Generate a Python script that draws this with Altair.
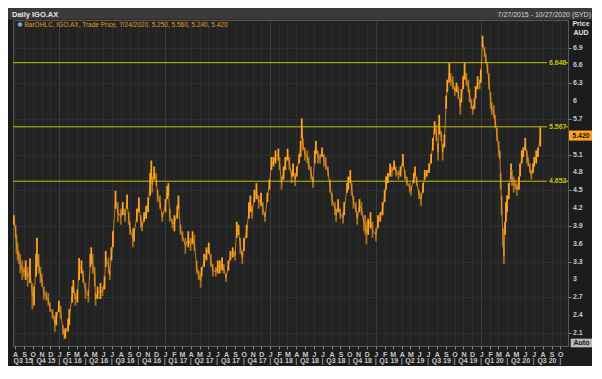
import altair as alt
import pandas as pd
import numpy as np

# ---------------- data ----------------
dates = [
    "2015-07-28", "2015-08-03", "2015-08-06", "2015-08-10", "2015-08-14", "2015-08-19", "2015-08-26",
    "2015-09-01", "2015-09-07", "2015-09-14", "2015-09-22", "2015-09-30", "2015-10-06", "2015-10-13",
    "2015-10-16", "2015-10-22", "2015-10-28", "2015-11-02", "2015-11-09", "2015-11-17", "2015-11-24",
    "2015-11-30", "2015-12-09", "2015-12-17", "2015-12-22", "2015-12-31", "2016-01-06", "2016-01-14",
    "2016-01-19", "2016-01-22", "2016-02-01", "2016-02-05", "2016-02-15", "2016-02-19", "2016-02-26",
    "2016-03-04", "2016-03-10", "2016-03-18", "2016-03-24", "2016-04-01", "2016-04-11", "2016-04-18",
    "2016-04-21", "2016-04-26", "2016-05-03", "2016-05-06", "2016-05-13", "2016-05-23", "2016-05-30",
    "2016-06-06", "2016-06-10", "2016-06-20", "2016-06-24", "2016-06-30", "2016-07-05", "2016-07-14",
    "2016-07-22", "2016-08-01", "2016-08-08", "2016-08-16", "2016-08-23", "2016-08-29", "2016-09-02",
    "2016-09-12", "2016-09-16", "2016-09-26", "2016-10-03", "2016-10-10", "2016-10-14", "2016-10-21",
    "2016-10-28", "2016-11-04", "2016-11-11", "2016-11-15", "2016-11-18", "2016-11-25", "2016-12-02",
    "2016-12-07", "2016-12-15", "2016-12-23", "2017-01-03", "2017-01-09", "2017-01-13", "2017-01-18",
    "2017-01-27", "2017-02-03", "2017-02-13", "2017-02-17", "2017-02-24", "2017-03-03", "2017-03-13",
    "2017-03-23", "2017-03-31", "2017-04-07", "2017-04-13", "2017-04-21", "2017-04-28", "2017-05-05",
    "2017-05-08", "2017-05-17", "2017-05-25", "2017-06-02", "2017-06-09", "2017-06-16", "2017-06-26",
    "2017-07-03", "2017-07-10", "2017-07-18", "2017-07-24", "2017-08-01", "2017-08-09", "2017-08-16",
    "2017-08-24", "2017-09-01", "2017-09-07", "2017-09-13", "2017-09-19", "2017-09-26", "2017-10-02",
    "2017-10-11", "2017-10-19", "2017-10-24", "2017-10-30", "2017-11-07", "2017-11-14", "2017-11-22",
    "2017-11-30", "2017-12-06", "2017-12-14", "2017-12-22", "2017-12-29", "2018-01-05", "2018-01-12",
    "2018-01-19", "2018-01-29", "2018-02-02", "2018-02-09", "2018-02-16", "2018-02-22", "2018-03-02",
    "2018-03-08", "2018-03-16", "2018-03-21", "2018-03-28", "2018-04-03", "2018-04-11", "2018-04-16",
    "2018-04-20", "2018-04-24", "2018-05-01", "2018-05-09", "2018-05-14", "2018-05-22", "2018-05-29",
    "2018-06-04", "2018-06-08", "2018-06-15", "2018-06-22", "2018-06-29", "2018-07-06", "2018-07-12",
    "2018-07-20", "2018-07-27", "2018-08-03", "2018-08-13", "2018-08-17", "2018-08-24", "2018-08-31",
    "2018-09-10", "2018-09-14", "2018-09-24", "2018-09-28", "2018-10-05", "2018-10-10", "2018-10-16",
    "2018-10-24", "2018-10-29", "2018-11-06", "2018-11-13", "2018-11-21", "2018-11-26", "2018-11-30",
    "2018-12-06", "2018-12-14", "2018-12-21", "2019-01-02", "2019-01-09", "2019-01-17", "2019-01-25",
    "2019-02-01", "2019-02-06", "2019-02-12", "2019-02-20", "2019-02-26", "2019-03-06", "2019-03-12",
    "2019-03-21", "2019-03-28", "2019-04-05", "2019-04-12", "2019-04-19", "2019-04-29", "2019-05-03",
    "2019-05-13", "2019-05-17", "2019-05-23", "2019-05-31", "2019-06-07", "2019-06-14", "2019-06-20",
    "2019-06-27", "2019-07-05", "2019-07-12", "2019-07-18", "2019-07-24", "2019-07-30", "2019-08-05",
    "2019-08-09", "2019-08-16", "2019-08-21", "2019-08-27", "2019-09-02", "2019-09-06", "2019-09-13",
    "2019-09-18", "2019-09-25", "2019-10-02", "2019-10-08", "2019-10-14", "2019-10-21", "2019-10-25",
    "2019-10-31", "2019-11-05", "2019-11-11", "2019-11-18", "2019-11-22", "2019-11-28", "2019-12-03",
    "2019-12-09", "2019-12-13", "2019-12-20", "2019-12-27", "2019-12-31", "2020-01-06", "2020-01-13",
    "2020-01-17", "2020-01-23", "2020-01-28", "2020-02-03", "2020-02-07", "2020-02-14", "2020-02-19",
    "2020-02-25", "2020-03-02", "2020-03-06", "2020-03-09", "2020-03-12", "2020-03-17", "2020-03-20",
    "2020-03-24", "2020-03-27", "2020-03-31", "2020-04-06", "2020-04-14", "2020-04-17", "2020-04-23",
    "2020-04-28", "2020-05-04", "2020-05-11", "2020-05-15", "2020-05-21", "2020-05-26", "2020-06-02",
    "2020-06-08", "2020-06-12", "2020-06-18", "2020-06-23", "2020-06-29", "2020-07-03", "2020-07-10",
    "2020-07-16", "2020-07-24",
]
highs = [
    4.08, 3.92, 3.75, 3.62, 3.48, 3.43, 3.32, 3.21, 3.32, 3.21, 3.35, 2.94, 2.88, 3.43,
    3.70, 3.43, 3.21, 3.10, 2.88, 2.80, 2.77, 2.61, 2.50, 2.39, 2.45, 2.64, 2.56, 2.23,
    2.15, 2.18, 2.34, 2.50, 2.88, 2.99, 2.77, 2.83, 3.36, 3.32, 3.15, 2.94, 2.83, 3.43,
    3.54, 3.43, 3.21, 2.77, 2.88, 2.94, 2.88, 3.05, 3.48, 3.37, 3.15, 3.54, 3.81, 4.49,
    4.30, 4.19, 4.30, 4.19, 4.43, 4.13, 3.97, 3.86, 3.86, 4.19, 4.38, 4.08, 3.97, 4.13,
    4.24, 4.38, 4.79, 5.00, 4.73, 4.90, 4.79, 4.51, 4.41, 4.13, 4.35, 4.57, 4.62, 4.19,
    4.02, 4.08, 4.24, 4.41, 3.92, 3.81, 3.70, 3.81, 3.70, 3.81, 3.75, 3.32, 3.15, 3.10,
    3.21, 3.43, 3.54, 3.62, 3.43, 3.26, 3.21, 3.32, 3.32, 3.37, 3.26, 3.10, 3.32, 3.48,
    3.54, 3.48, 3.97, 3.92, 3.70, 3.48, 3.70, 3.92, 4.30, 4.41, 4.24, 4.51, 4.62, 4.41,
    4.46, 4.30, 4.13, 4.46, 4.68, 5.06, 5.06, 5.17, 5.20, 5.06, 4.73, 4.90, 5.06, 5.20,
    5.06, 4.84, 4.95, 4.79, 4.90, 5.11, 5.33, 5.71, 5.38, 5.22, 5.17, 5.06, 4.90, 4.73,
    5.17, 5.33, 5.17, 5.11, 5.22, 5.11, 5.06, 4.90, 4.68, 4.46, 4.30, 4.19, 4.35, 4.19,
    4.13, 4.30, 4.62, 4.73, 4.84, 4.62, 4.41, 4.30, 4.13, 4.35, 4.30, 4.08, 4.08, 3.97,
    4.02, 4.13, 3.97, 3.86, 4.08, 4.13, 4.30, 4.51, 4.73, 4.79, 4.95, 4.90, 5.00, 4.90,
    4.84, 4.90, 5.11, 4.84, 4.73, 4.62, 4.57, 4.79, 4.90, 4.73, 4.51, 4.46, 4.62, 4.84,
    4.84, 4.95, 5.11, 5.38, 5.66, 5.60, 5.28, 5.77, 5.49, 5.28, 5.44, 6.09, 6.36, 6.64,
    6.47, 6.42, 6.25, 6.31, 6.25, 6.04, 6.20, 6.42, 6.64, 6.47, 6.36, 6.20, 6.04, 5.93,
    6.04, 6.25, 6.42, 6.36, 6.53, 7.10, 6.91, 6.80, 6.64, 6.47, 6.15, 5.98, 5.93, 5.77,
    5.55, 5.33, 5.17, 4.79, 4.41, 3.86, 3.54, 3.97, 4.30, 4.41, 4.62, 4.95, 4.84, 4.73,
    4.68, 4.62, 4.73, 4.95, 5.17, 5.22, 5.38, 5.17, 5.06, 4.95, 4.84, 4.95, 5.06, 5.17,
    5.22, 5.56,
]
lows = [
    3.92, 3.70, 3.43, 3.32, 3.26, 3.10, 2.99, 3.05, 2.99, 2.88, 2.94, 2.50, 2.56, 3.05,
    3.21, 3.10, 2.94, 2.88, 2.66, 2.64, 2.56, 2.45, 2.34, 2.12, 2.23, 2.45, 2.34, 2.07,
    1.99, 2.01, 2.12, 2.23, 2.61, 2.77, 2.56, 2.61, 2.99, 3.10, 2.94, 2.67, 2.61, 3.21,
    3.26, 3.10, 2.88, 2.56, 2.67, 2.67, 2.72, 2.83, 3.21, 3.10, 2.99, 3.32, 3.54, 4.19,
    3.97, 3.92, 4.08, 3.97, 4.19, 3.92, 3.75, 3.54, 3.64, 3.97, 4.13, 3.86, 3.81, 3.97,
    4.02, 4.13, 4.41, 4.68, 4.46, 4.68, 4.57, 4.30, 4.19, 3.97, 4.13, 4.35, 4.41, 3.97,
    3.86, 3.81, 4.02, 4.19, 3.75, 3.64, 3.43, 3.54, 3.48, 3.59, 3.48, 3.10, 2.99, 2.86,
    3.05, 3.21, 3.32, 3.43, 3.21, 3.05, 3.05, 3.10, 3.10, 3.15, 3.10, 2.96, 3.15, 3.32,
    3.37, 3.32, 3.70, 3.75, 3.43, 3.26, 3.48, 3.70, 4.02, 4.13, 4.02, 4.30, 4.35, 4.19,
    4.24, 4.08, 3.97, 4.30, 4.51, 4.84, 4.90, 4.95, 5.00, 4.84, 4.51, 4.68, 4.84, 5.00,
    4.84, 4.62, 4.73, 4.57, 4.73, 4.95, 5.06, 5.38, 5.17, 5.00, 4.95, 4.84, 4.68, 4.54,
    4.95, 5.11, 4.95, 4.95, 5.06, 4.90, 4.84, 4.73, 4.46, 4.24, 4.08, 3.97, 4.13, 4.02,
    3.94, 4.08, 4.46, 4.51, 4.62, 4.41, 4.19, 4.13, 3.92, 4.13, 4.08, 3.81, 3.75, 3.59,
    3.75, 3.86, 3.70, 3.64, 3.86, 3.97, 4.08, 4.30, 4.51, 4.62, 4.73, 4.73, 4.84, 4.73,
    4.68, 4.73, 4.90, 4.68, 4.57, 4.46, 4.41, 4.62, 4.73, 4.57, 4.35, 4.24, 4.46, 4.68,
    4.73, 4.79, 4.95, 5.17, 5.44, 5.33, 5.00, 5.44, 5.33, 5.00, 5.22, 5.87, 6.15, 6.31,
    6.25, 6.20, 6.09, 6.15, 6.04, 5.77, 5.98, 6.20, 6.36, 6.25, 6.15, 5.98, 5.87, 5.77,
    5.87, 6.04, 6.20, 6.20, 6.31, 6.91, 6.74, 6.64, 6.47, 6.20, 5.87, 5.77, 5.71, 5.55,
    5.33, 5.06, 5.03, 4.51, 4.08, 3.54, 3.26, 3.75, 3.97, 4.13, 4.35, 4.68, 4.57, 4.46,
    4.51, 4.41, 4.51, 4.73, 4.95, 5.06, 5.17, 4.95, 4.90, 4.79, 4.68, 4.79, 4.90, 4.95,
    5.06, 5.24,
]

level_values = [6.646, 5.567, 4.652]
level_labels = ["6.646", "5.567", "4.652"]
last_price = [5.420]
last_label = ["5.420"]
y_ticks = [2.1, 2.4, 2.7, 3.0, 3.3, 3.6, 3.9, 4.2, 4.5, 4.8, 5.1, 5.4, 5.7, 6.0, 6.3, 6.6, 6.9]

quarter_labels = ["Q3 15", "Q4 15", "Q1 16", "Q2 16", "Q3 16", "Q4 16", "Q1 17", "Q2 17",
                  "Q3 17", "Q4 17", "Q1 18", "Q2 18", "Q3 18", "Q4 18", "Q1 19", "Q2 19",
                  "Q3 19", "Q4 19", "Q1 20", "Q2 20", "Q3 20"]
quarter_starts = ["2015-07-27", "2015-10-01", "2016-01-01", "2016-04-01", "2016-07-01", "2016-10-01",
                  "2017-01-01", "2017-04-01", "2017-07-01", "2017-10-01", "2018-01-01", "2018-04-01",
                  "2018-07-01", "2018-10-01", "2019-01-01", "2019-04-01", "2019-07-01", "2019-10-01",
                  "2020-01-01", "2020-04-01", "2020-07-01"]
quarter_ends = quarter_starts[1:] + ["2020-10-01"]

header_left = ["Daily IGO.AX"]
header_right = ["7/27/2015 - 10/27/2020 (SYD)"]
legend_text = ["BarOHLC, IGO.AX, Trade Price, 7/24/2020, 5.250, 5.560, 5.240, 5.420"]

# ---------------- layout / style ----------------
W, H = 555, 326
FONT = "Liberation Sans"
BG = "#1c1c1c"
PLOT_BG = "#232323"
ORANGE = "#ffa31a"
ORANGE_DK = "#a8701c"
YELLOW = "#c4c400"
LABEL = "#c8c8c8"

df = pd.DataFrame({"date": pd.to_datetime(dates), "high": highs, "low": lows})
df["mid"] = (df["high"] + df["low"]) / 2
df["dir"] = np.where(df["mid"].diff().fillna(0) >= 0, "up", "down")

lv = pd.DataFrame({"value": level_values, "label": level_labels})
lp = pd.DataFrame({"value": last_price, "label": last_label})
# tick labels; the one hidden behind the last-price box is not shown (as in the reference)
yt = pd.DataFrame({"value": y_ticks, "label": [f"{v:g}" for v in y_ticks]})
yt = yt[(yt["value"] - last_price[0]).abs() > 0.1]
qs = pd.to_datetime(pd.Series(quarter_starts))
qe = pd.to_datetime(pd.Series(quarter_ends))
qdf = pd.DataFrame({"label": quarter_labels, "mid": qs + (qe - qs) / 2})
sep = pd.DataFrame({"date": pd.to_datetime(quarter_ends), "t": ["|"] * len(quarter_ends)})

xs = alt.Scale(domain=[alt.DateTime(year=2015, month=7, date=25),
                       alt.DateTime(year=2020, month=10, date=28)])
ys = alt.Scale(domain=[1.88, 7.364], nice=False, zero=False)

x_axis = alt.Axis(
    title=None, orient="bottom", grid=True,
    tickCount={"interval": "month", "step": 1},
    labelExpr="slice(timeFormat(datum.value, '%b'), 0, 1)",
    labelOverlap=False, labelFlush=False, labelFontSize=7, labelFont=FONT,
    labelFontWeight="bold", labelColor=LABEL, tickColor="#8a8a8a", tickSize=3,
    labelPadding=1, domain=False,
    gridColor={"condition": {"test": "month(datum.value) == 0", "value": "#3c3c3c"},
               "value": "#2d2d2d"},
)
y_axis = alt.Axis(
    title=None, orient="right", values=y_ticks, grid=True, labels=False,
    gridColor="#2f2f2f", tickColor="#8a8a8a", tickSize=3, domainColor="#5a5a5a",
)

bars = alt.Chart(df).mark_rule(strokeWidth=1.8).encode(
    x=alt.X("date:T", scale=xs, axis=x_axis),
    y=alt.Y("low:Q", scale=ys, axis=y_axis),
    y2="high:Q",
    color=alt.Color("dir:N", scale=alt.Scale(domain=["up", "down"], range=[ORANGE, ORANGE_DK]),
                    legend=None),
)
line = alt.Chart(df).mark_line(strokeWidth=0.7, color=ORANGE).encode(
    x=alt.X("date:T", scale=xs), y=alt.Y("mid:Q", scale=ys))

ytick_txt = alt.Chart(yt).mark_text(align="left", baseline="middle", color=LABEL,
                                    fontSize=7, font=FONT, fontWeight="bold").encode(
    y=alt.Y("value:Q", scale=ys), x=alt.value(W + 5), text="label:N")

lvl_rule = alt.Chart(lv).mark_rule(color=YELLOW, strokeWidth=1).encode(
    y=alt.Y("value:Q", scale=ys), x=alt.value(0), x2=alt.value(W - 21))
lvl_tail = alt.Chart(lv).mark_rule(color=YELLOW, strokeWidth=1).encode(
    y=alt.Y("value:Q", scale=ys), x=alt.value(W - 3), x2=alt.value(W))
lvl_text = alt.Chart(lv).mark_text(align="left", baseline="middle", color=YELLOW,
                                   fontSize=7, font=FONT, fontWeight="bold").encode(
    y=alt.Y("value:Q", scale=ys), x=alt.value(W - 19), text="label:N")

box_shape = "M-1,-0.42L1,-0.42L1,0.42L-1,0.42Z"
price_box = alt.Chart(lp).mark_point(shape=box_shape, filled=True, size=576, opacity=1,
                                     color=ORANGE, strokeWidth=0).encode(
    y=alt.Y("value:Q", scale=ys), x=alt.value(W + 13))
price_txt = alt.Chart(lp).mark_text(align="center", baseline="middle", color="#111111",
                                    fontSize=7, font=FONT, fontWeight="bold").encode(
    y=alt.Y("value:Q", scale=ys), x=alt.value(W + 13), text="label:N")

q_text = alt.Chart(qdf).mark_text(baseline="middle", align="center", color=LABEL,
                                  fontSize=7, font=FONT, fontWeight="bold").encode(
    x=alt.X("mid:T", scale=xs), y=alt.value(H + 15), text="label:N")
q_sep = alt.Chart(sep).mark_text(baseline="middle", align="center", color=LABEL,
                                 fontSize=8, font=FONT).encode(
    x=alt.X("date:T", scale=xs), y=alt.value(H + 15), text="t:N")

one = pd.DataFrame({"k": [0]})
head_bar = alt.Chart(one).mark_rect(color="#3a3a3a").encode(
    x=alt.value(-5), x2=alt.value(W + 24), y=alt.value(-12), y2=alt.value(-0.5))
head_l = alt.Chart(pd.DataFrame({"t": header_left})).mark_text(
    align="left", baseline="middle", color="#e6e6e6", fontSize=7.5, font=FONT,
    fontWeight="bold").encode(x=alt.value(-1), y=alt.value(-5.5), text="t:N")
head_r = alt.Chart(pd.DataFrame({"t": header_right})).mark_text(
    align="right", baseline="middle", color="#d8d8d8", fontSize=7, font=FONT).encode(
    x=alt.value(W + 23), y=alt.value(-5.5), text="t:N")
leg_icon = alt.Chart(one).mark_point(filled=True, size=22, color="#7da0c8", opacity=1).encode(
    x=alt.value(7), y=alt.value(4.5))
leg_txt = alt.Chart(pd.DataFrame({"t": legend_text})).mark_text(
    align="left", baseline="middle", color="#e89a20", fontSize=6.5, font=FONT).encode(
    x=alt.value(11.5), y=alt.value(4.5), text="t:N")
price_lbl = alt.Chart(pd.DataFrame({"t": ["Price"]})).mark_text(
    align="center", baseline="middle", color="#e0e0e0", fontSize=7, font=FONT,
    fontWeight="bold").encode(x=alt.value(W + 13), y=alt.value(3.5), text="t:N")
aud_lbl = alt.Chart(pd.DataFrame({"t": ["AUD"]})).mark_text(
    align="center", baseline="middle", color="#e0e0e0", fontSize=7, font=FONT,
    fontWeight="bold").encode(x=alt.value(W + 13), y=alt.value(12.5), text="t:N")
auto_box = alt.Chart(one).mark_rect(color="#b4b4b4", stroke="#e0e0e0", strokeWidth=0.5).encode(
    x=alt.value(W + 3), x2=alt.value(W + 24), y=alt.value(H - 7), y2=alt.value(H + 1))
auto_txt = alt.Chart(pd.DataFrame({"t": ["Auto"]})).mark_text(
    align="center", baseline="middle", color="#202020", fontSize=7, font=FONT,
    fontWeight="bold").encode(x=alt.value(W + 13.5), y=alt.value(H - 3), text="t:N")

chart = alt.layer(
    bars, line, ytick_txt, lvl_rule, lvl_tail, lvl_text, price_box, price_txt, q_text, q_sep,
    head_bar, head_l, head_r, leg_icon, leg_txt, price_lbl, aud_lbl, auto_box, auto_txt,
).resolve_scale(color="independent").properties(
    width=W, height=H,
    autosize=alt.AutoSizeParams(type="none"),
    padding={"left": 5, "top": 12, "right": 24, "bottom": 20},
    background=BG,
).configure_view(fill=PLOT_BG, stroke="#5a5a5a", strokeWidth=1
).configure_axis(labelOverlap=False)

chart.save("out.html", embed_options={"renderer": "svg", "actions": False})
